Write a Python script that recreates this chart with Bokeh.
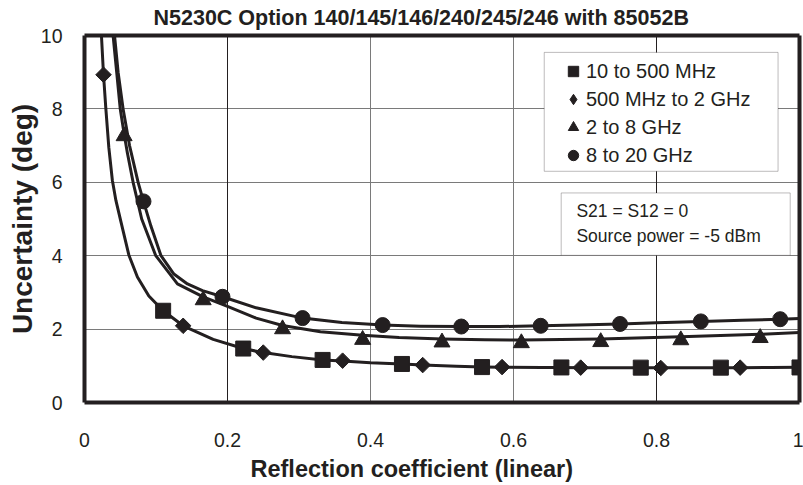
import math
from bokeh.plotting import figure
from bokeh.models import (Range1d, FixedTicker, Grid, Legend, LegendItem, Label,
                          BoxAnnotation, LinearAxis, Title)
from bokeh.embed import file_html
from bokeh.resources import INLINE

# ---------------- data ----------------
title_text = "N5230C Option 140/145/146/240/245/246 with 85052B"
x_axis_title = "Reflection coefficient (linear)"
y_axis_title = "Uncertainty (deg)"

x_ticks = [0, 0.2, 0.4, 0.6, 0.8, 1.0]
x_tick_labels = ["0", "0.2", "0.4", "0.6", "0.8", "1"]
y_ticks = [0, 2, 4, 6, 8, 10]
y_tick_labels = ["0", "2", "4", "6", "8", "10"]

series_labels = ["10 to 500 MHz", "500 MHz to 2 GHz", "2 to 8 GHz", "8 to 20 GHz"]
note_lines = ["S21 = S12 = 0", "Source power = -5 dBm"]

# curve shared by the 10-500 MHz and 500 MHz-2 GHz markers
low_x = [0.021, 0.0237, 0.0266, 0.0298, 0.034, 0.039, 0.044, 0.051, 0.062, 0.074, 0.090,
         0.110, 0.138, 0.180, 0.222, 0.250, 0.290, 0.333, 0.361, 0.400, 0.444, 0.473,
         0.520, 0.556, 0.584, 0.640, 0.667, 0.694, 0.750, 0.778, 0.806, 0.860, 0.890,
         0.917, 0.960, 1.0]
low_y = [11.2, 10.0, 8.93, 8.02, 6.95, 6.05, 5.5, 4.92, 4.02, 3.42, 2.90,
         2.50, 2.09, 1.72, 1.47, 1.36, 1.25, 1.16, 1.13, 1.08, 1.05, 1.02,
         0.99, 0.97, 0.96, 0.955, 0.955, 0.95, 0.95, 0.95, 0.945, 0.95, 0.95,
         0.95, 0.955, 0.96]

# 2 to 8 GHz curve
mid_x = [0.038, 0.040, 0.045, 0.050, 0.0554, 0.060, 0.068, 0.080, 0.0997, 0.130, 0.166,
         0.200, 0.240, 0.277, 0.330, 0.389, 0.440, 0.500, 0.560, 0.611, 0.722, 0.834,
         0.945, 1.0]
mid_y = [11.0, 10.0, 9.0, 8.0, 7.32, 6.8, 6.0, 5.0, 4.0, 3.23, 2.88,
         2.62, 2.30, 2.10, 1.93, 1.83, 1.77, 1.73, 1.71, 1.70, 1.73, 1.79,
         1.86, 1.91]

# 8 to 20 GHz curve
top_x = [0.040, 0.042, 0.047, 0.054, 0.063, 0.075, 0.0825, 0.093, 0.107, 0.125, 0.144,
         0.165, 0.193, 0.240, 0.305, 0.360, 0.417, 0.470, 0.527, 0.580, 0.638, 0.690,
         0.749, 0.800, 0.862, 0.920, 0.973, 1.0]
top_y = [11.0, 10.0, 9.0, 8.0, 7.0, 6.0, 5.48, 4.8, 4.0, 3.5, 3.23,
         3.05, 2.88, 2.58, 2.30, 2.18, 2.11, 2.08, 2.07, 2.07, 2.09, 2.11,
         2.14, 2.17, 2.21, 2.24, 2.27, 2.29]

# marker points
sq_x = [0.110, 0.222, 0.333, 0.444, 0.556, 0.667, 0.778, 0.890, 1.0]
sq_y = [2.50, 1.47, 1.16, 1.05, 0.965, 0.955, 0.95, 0.95, 0.955]
dm_x = [0.0266, 0.138, 0.250, 0.361, 0.473, 0.584, 0.694, 0.806, 0.917]
dm_y = [8.93, 2.09, 1.36, 1.14, 1.02, 0.965, 0.95, 0.94, 0.95]
tr_x = [0.0554, 0.166, 0.277, 0.389, 0.500, 0.611, 0.722, 0.834, 0.945]
tr_y = [7.26, 2.79, 2.00, 1.71, 1.64, 1.62, 1.65, 1.70, 1.76]
ci_x = [0.0825, 0.193, 0.305, 0.417, 0.527, 0.638, 0.749, 0.862, 0.973]
ci_y = [5.48, 2.88, 2.30, 2.11, 2.07, 2.09, 2.14, 2.21, 2.27]

# ---------------- styling ----------------
INK = "#231f20"
GRID_GRAY = "#7a7a7a"
FONT = "Liberation Sans"

p = figure(width=803, height=485, x_range=Range1d(0, 1), y_range=Range1d(0, 10),
           output_backend="svg", toolbar_location=None,
           min_border_left=84, min_border_right=4, min_border_top=35, min_border_bottom=83)
p.background_fill_color = "white"
p.border_fill_color = "white"
p.outline_line_color = None

# title
p.title.text = title_text
p.title.align = "left"
p.title.offset = 69
p.title.vertical_align = "top"
p.title.standoff = 8
p.title.text_font = FONT
p.title.text_font_size = "21.5px"
p.title.text_font_style = "bold"
p.title.text_color = INK

for ax, ticks, labels in ((p.xaxis, x_ticks, x_tick_labels), (p.yaxis, y_ticks, y_tick_labels)):
    ax.ticker = FixedTicker(ticks=ticks)
    ax.major_label_overrides = {t: l for t, l in zip(ticks, labels)}
    ax.axis_line_color = INK
    ax.axis_line_width = 4
    ax.major_tick_line_color = None
    ax.minor_tick_line_color = None
    ax.major_tick_out = 0
    ax.major_tick_in = 0
    ax.minor_tick_out = 0
    ax.minor_tick_in = 0
    ax.major_label_text_font = FONT
    ax.major_label_text_font_size = "19.5px"
    ax.major_label_text_color = INK
p.xaxis.major_label_standoff = 30
p.yaxis.major_label_standoff = 22

p.yaxis.axis_label = y_axis_title
p.yaxis.axis_label_standoff = 0
p.yaxis.axis_label_text_font = FONT
p.yaxis.axis_label_text_font_size = "28px"
p.yaxis.axis_label_text_font_style = "bold"
p.yaxis.axis_label_text_color = INK

# plain frame lines on top and right
for side in ("above", "right"):
    fa = LinearAxis(ticker=FixedTicker(ticks=[]), axis_line_color=INK, axis_line_width=4,
                    major_tick_line_color=None, minor_tick_line_color=None,
                    major_tick_out=0, major_tick_in=0, minor_tick_out=0, minor_tick_in=0,
                    major_label_standoff=0)
    p.add_layout(fa, side)

p.add_layout(Title(text=x_axis_title, align="left", offset=166, vertical_align="bottom",
                   standoff=8, text_font=FONT, text_font_size="23.5px",
                   text_font_style="bold", text_color=INK), "below")

p.xgrid.ticker = FixedTicker(ticks=[0.4, 0.6])
p.xgrid.grid_line_color = GRID_GRAY
p.xgrid.grid_line_width = 1
p.ygrid.ticker = FixedTicker(ticks=[2, 4, 6, 8])
p.ygrid.grid_line_color = GRID_GRAY
p.ygrid.grid_line_width = 1
p.add_layout(Grid(dimension=0, ticker=FixedTicker(ticks=[0.2, 0.8]),
                  grid_line_color=INK, grid_line_width=1))

# curves
for cx, cy in ((low_x, low_y), (mid_x, mid_y), (top_x, top_y)):
    p.line(cx, cy, line_width=3, line_color=INK, line_join="round")

r_sq = p.scatter(sq_x, sq_y, marker="square", size=15, color=INK)
# diamond-shaped key glyph for the legend (hidden beneath the rotated squares below)
r_dm_key = p.scatter(dm_x, dm_y, marker="diamond", size=11, color=INK)
r_dm = p.scatter(dm_x, dm_y, marker="square", size=11, angle=math.pi / 4, color=INK)
r_tr = p.scatter(tr_x, tr_y, marker="triangle", size=16, color=INK)
r_ci = p.scatter(ci_x, ci_y, marker="circle", size=15, color=INK)

# legend frame and note frame
p.add_layout(BoxAnnotation(left=0.643, right=0.970, top=9.54, bottom=6.30,
                           fill_color="white", fill_alpha=1.0,
                           line_color=INK, line_width=1))
p.add_layout(BoxAnnotation(left=0.6667, right=0.987, top=5.71, bottom=4.01,
                           fill_color="white", fill_alpha=1.0,
                           line_color=INK, line_width=1))

legend = Legend(items=[LegendItem(label=lab, renderers=[r])
                       for lab, r in zip(series_labels, [r_sq, r_dm_key, r_tr, r_ci])],
                location=(476, 233), orientation="vertical",
                padding=0, margin=0, spacing=0,
                glyph_width=26, glyph_height=28, label_height=28, label_standoff=0,
                border_line_color=None, background_fill_alpha=0,
                label_text_font=FONT, label_text_font_size="20px", label_text_color=INK)
p.add_layout(legend, "center")

for txt, yy in zip(note_lines, [5.21, 4.55]):
    p.add_layout(Label(x=0.688, y=yy, text=txt, text_font=FONT, text_font_size="17.5px",
                       text_color=INK, text_align="left", text_baseline="middle"))

open("out.html", "w").write(file_html(p, INLINE))
